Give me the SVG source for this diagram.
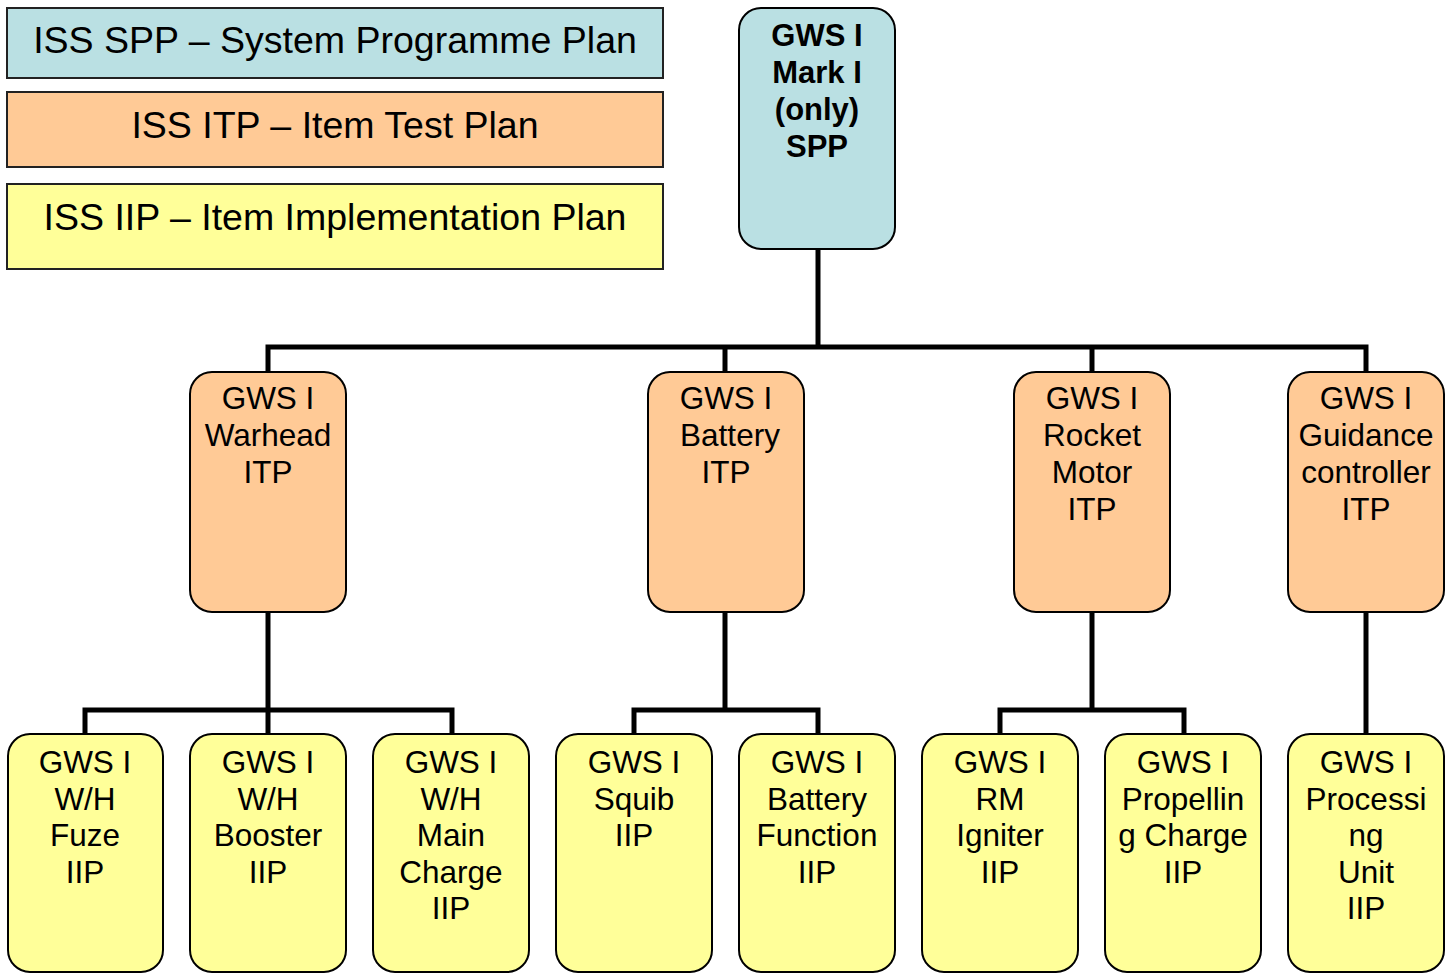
<svg xmlns="http://www.w3.org/2000/svg" width="1455" height="974" viewBox="0 0 1455 974">
  <style>
    .legend { stroke: #222; stroke-width: 2; }
    .node { stroke: #000; stroke-width: 2; }
    .spp { fill: #BAE0E3; }
    .itp { fill: #FFCA96; }
    .iip { fill: #FFFF99; }
    text { font-family: "Liberation Sans", Arial, sans-serif; fill: #000; text-anchor: middle; }
    .lt { font-size: 37.5px; }
    .nt { font-size: 31.5px; }
    .bt { font-size: 31px; font-weight: bold; }
    .conn { fill: none; stroke: #000; stroke-width: 5; }
  </style>

  <!-- legend -->
  <g id="legend-spp">
    <rect class="legend spp" x="7" y="8" width="656" height="70"/>
    <text class="lt" x="335" y="53">ISS SPP – System Programme Plan</text>
  </g>
  <g id="legend-itp">
    <rect class="legend itp" x="7" y="92" width="656" height="75"/>
    <text class="lt" x="335" y="138">ISS ITP – Item Test Plan</text>
  </g>
  <g id="legend-iip">
    <rect class="legend iip" x="7" y="184" width="656" height="85"/>
    <text class="lt" x="335" y="230">ISS IIP – Item Implementation Plan</text>
  </g>

  <!-- connectors -->
  <g id="connectors" class="conn">
    <path d="M818 249 V347"/>
    <path d="M268 372 V347 H1366 V372"/>
    <path d="M725 347 V372"/>
    <path d="M1092 347 V372"/>
    <path d="M268 612 V734"/>
    <path d="M85 734 V710 H452 V734"/>
    <path d="M725 612 V710"/>
    <path d="M634 734 V710 H818 V734"/>
    <path d="M1092 612 V710"/>
    <path d="M1000 734 V710 H1184 V734"/>
    <path d="M1366 612 V734"/>
  </g>

  <!-- top -->
  <g id="spp-mark1">
    <rect class="node spp" x="739" y="8" width="156" height="241" rx="22"/>
    <text class="bt" x="817"><tspan x="817" y="46">GWS I</tspan><tspan x="817" y="83">Mark I</tspan><tspan x="817" y="120">(only)</tspan><tspan x="817" y="157">SPP</tspan></text>
  </g>

  <!-- ITP level -->
  <g id="itp-warhead">
    <rect class="node itp" x="190" y="372" width="156" height="240" rx="22"/>
    <text class="nt"><tspan x="268" y="409">GWS I</tspan><tspan x="268" y="446">Warhead</tspan><tspan x="268" y="483">ITP</tspan></text>
  </g>
  <g id="itp-battery">
    <rect class="node itp" x="648" y="372" width="156" height="240" rx="22"/>
    <text class="nt"><tspan x="726" y="409">GWS I</tspan><tspan x="730" y="446">Battery</tspan><tspan x="726" y="483">ITP</tspan></text>
  </g>
  <g id="itp-rocket-motor">
    <rect class="node itp" x="1014" y="372" width="156" height="240" rx="22"/>
    <text class="nt"><tspan x="1092" y="409">GWS I</tspan><tspan x="1092" y="446">Rocket</tspan><tspan x="1092" y="483">Motor</tspan><tspan x="1092" y="520">ITP</tspan></text>
  </g>
  <g id="itp-guidance">
    <rect class="node itp" x="1288" y="372" width="156" height="240" rx="22"/>
    <text class="nt"><tspan x="1366" y="409">GWS I</tspan><tspan x="1366" y="446">Guidance</tspan><tspan x="1366" y="483">controller</tspan><tspan x="1366" y="520">ITP</tspan></text>
  </g>

  <!-- IIP level -->
  <g id="iip-fuze">
    <rect class="node iip" x="8" y="734" width="155" height="238" rx="22"/>
    <text class="nt"><tspan x="85" y="773">GWS I</tspan><tspan x="85" y="810">W/H</tspan><tspan x="85" y="846">Fuze</tspan><tspan x="85" y="883">IIP</tspan></text>
  </g>
  <g id="iip-booster">
    <rect class="node iip" x="190" y="734" width="156" height="238" rx="22"/>
    <text class="nt"><tspan x="268" y="773">GWS I</tspan><tspan x="268" y="810">W/H</tspan><tspan x="268" y="846">Booster</tspan><tspan x="268" y="883">IIP</tspan></text>
  </g>
  <g id="iip-main-charge">
    <rect class="node iip" x="373" y="734" width="156" height="238" rx="22"/>
    <text class="nt"><tspan x="451" y="773">GWS I</tspan><tspan x="451" y="810">W/H</tspan><tspan x="451" y="846">Main</tspan><tspan x="451" y="883">Charge</tspan><tspan x="451" y="919">IIP</tspan></text>
  </g>
  <g id="iip-squib">
    <rect class="node iip" x="556" y="734" width="156" height="238" rx="22"/>
    <text class="nt"><tspan x="634" y="773">GWS I</tspan><tspan x="634" y="810">Squib</tspan><tspan x="634" y="846">IIP</tspan></text>
  </g>
  <g id="iip-battery-function">
    <rect class="node iip" x="739" y="734" width="156" height="238" rx="22"/>
    <text class="nt"><tspan x="817" y="773">GWS I</tspan><tspan x="817" y="810">Battery</tspan><tspan x="817" y="846">Function</tspan><tspan x="817" y="883">IIP</tspan></text>
  </g>
  <g id="iip-rm-igniter">
    <rect class="node iip" x="922" y="734" width="156" height="238" rx="22"/>
    <text class="nt"><tspan x="1000" y="773">GWS I</tspan><tspan x="1000" y="810">RM</tspan><tspan x="1000" y="846">Igniter</tspan><tspan x="1000" y="883">IIP</tspan></text>
  </g>
  <g id="iip-propelling-charge">
    <rect class="node iip" x="1105" y="734" width="156" height="238" rx="22"/>
    <text class="nt"><tspan x="1183" y="773">GWS I</tspan><tspan x="1183" y="810">Propellin</tspan><tspan x="1183" y="846">g Charge</tspan><tspan x="1183" y="883">IIP</tspan></text>
  </g>
  <g id="iip-processing-unit">
    <rect class="node iip" x="1288" y="734" width="156" height="238" rx="22"/>
    <text class="nt"><tspan x="1366" y="773">GWS I</tspan><tspan x="1366" y="810">Processi</tspan><tspan x="1366" y="846">ng</tspan><tspan x="1366" y="883">Unit</tspan><tspan x="1366" y="919">IIP</tspan></text>
  </g>
</svg>
